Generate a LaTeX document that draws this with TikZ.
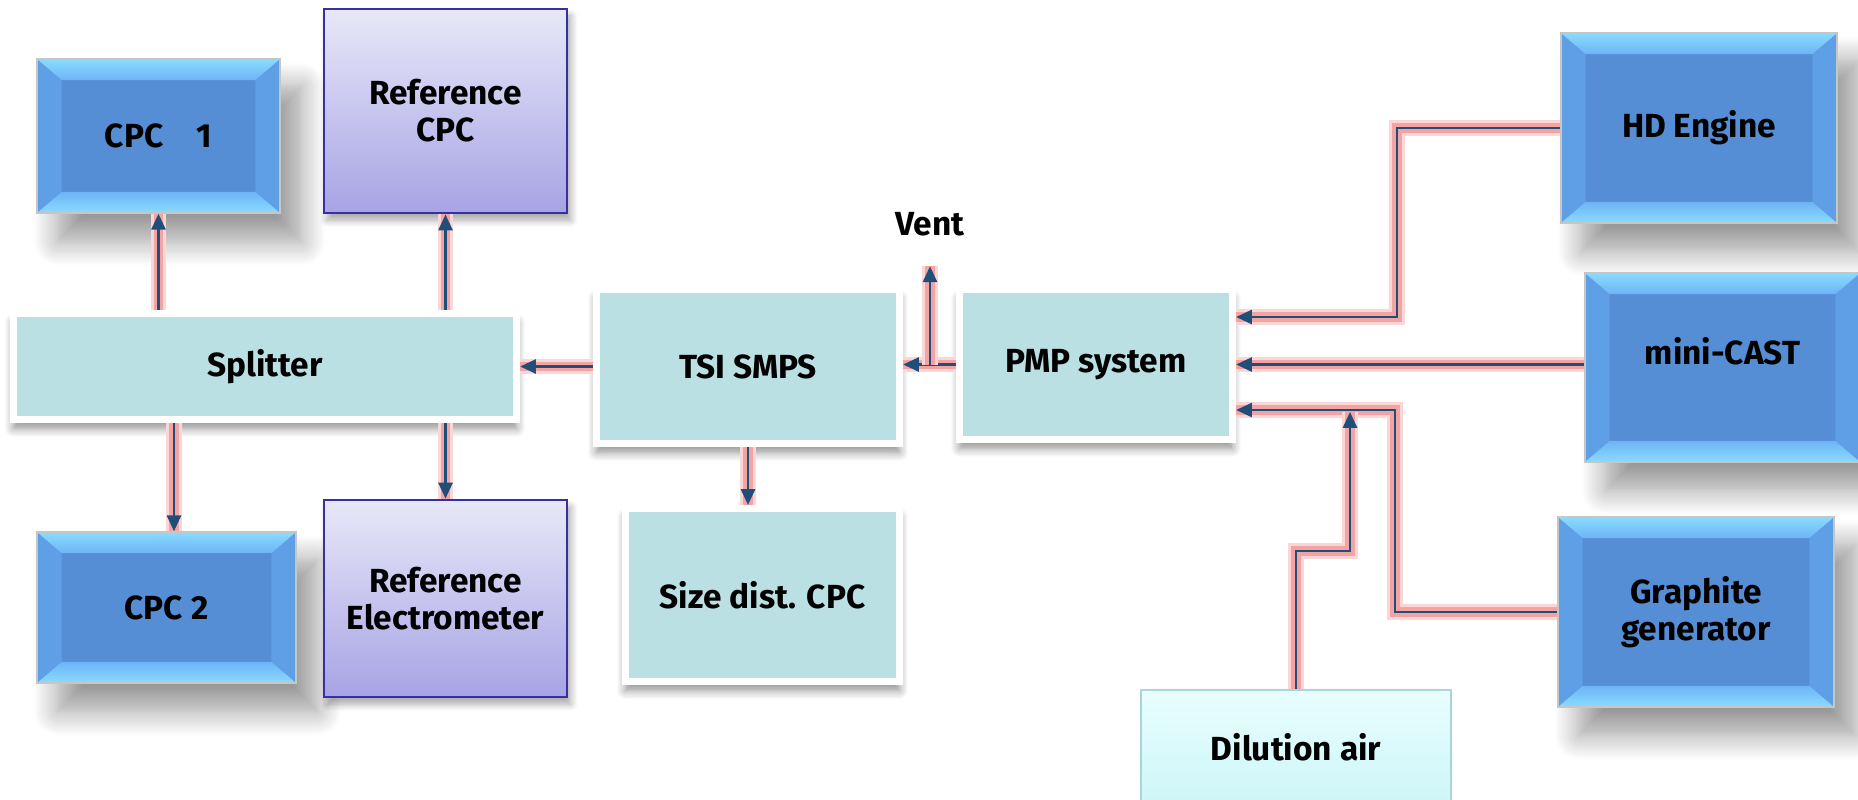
\documentclass[tikz,border=0pt]{standalone}
\usepackage{fontspec}
\setmainfont{Fira Sans}
\usepackage{tikz}
\usetikzlibrary{arrows.meta,shadows.blur,calc}

\definecolor{flowblue}{HTML}{1F4E79}
\definecolor{glowpink}{HTML}{F4A3A3}
\definecolor{boxteal}{HTML}{BAE0E3}
\definecolor{bevelmid}{HTML}{558ED5}
\definecolor{beveltop}{HTML}{8ADCFF}
\definecolor{bevelside}{HTML}{5E9FE6}
\definecolor{bevellow}{HTML}{6DB4F6}
\definecolor{refedge}{HTML}{3531A0}
\definecolor{reftop}{HTML}{E8E8F8}
\definecolor{refbottom}{HTML}{A7A3E5}
\definecolor{airtop}{HTML}{E8FEFF}
\definecolor{airbottom}{HTML}{CDF6F7}
\definecolor{airedge}{HTML}{A9D6D8}

\begin{document}
\begin{tikzpicture}[x=0.01cm,y=-0.01cm,
    font=\bfseries\fontsize{9.5}{10.5}\selectfont,
    every node/.style={align=center},
    flow/.style={flowblue,line width=0.7pt,-{Triangle[length=4.5pt,width=4pt]},
        preaction={draw=glowpink!45,line width=4.4pt,-},
        preaction={draw=glowpink,line width=2.6pt,-}},
    bevel/.style={fill=bevelmid,draw=gray!45,line width=0.4pt,
        blur shadow={shadow xshift=6pt,shadow yshift=-8pt,shadow blur radius=7pt,
            shadow opacity=40,shadow blur steps=12},
        path picture={
            \path (path picture bounding box.north west) coordinate (bnw)
                  (path picture bounding box.north east) coordinate (bne)
                  (path picture bounding box.south west) coordinate (bsw)
                  (path picture bounding box.south east) coordinate (bse);
            \fill[bevelside] (bnw) -- ([shift={(7pt,-6pt)}]bnw) -- ([shift={(7pt,6pt)}]bsw) -- (bsw) -- cycle;
            \fill[bevelside] (bne) -- ([shift={(-7pt,-6pt)}]bne) -- ([shift={(-7pt,6pt)}]bse) -- (bse) -- cycle;
            \shade[top color=beveltop,bottom color=bevellow] (bnw) -- (bne) -- ([shift={(-7pt,-6pt)}]bne) -- ([shift={(7pt,-6pt)}]bnw) -- cycle;
            \shade[top color=bevellow,bottom color=beveltop] (bsw) -- (bse) -- ([shift={(-7pt,6pt)}]bse) -- ([shift={(7pt,6pt)}]bsw) -- cycle;
        }},
    refbox/.style={top color=reftop,bottom color=refbottom,draw=refedge,line width=0.8pt,
        blur shadow={shadow xshift=1pt,shadow yshift=-2pt,shadow blur radius=2pt,
            shadow opacity=35,shadow blur steps=8}},
    panel/.style={fill=boxteal,draw=white,line width=2pt,
        blur shadow={shadow xshift=0pt,shadow yshift=-2.5pt,shadow blur radius=2.5pt,
            shadow opacity=45,shadow blur steps=8}},
    airbox/.style={top color=airtop,bottom color=airbottom,draw=airedge,line width=0.6pt}]
    \useasboundingbox (0,0) rectangle (1858,799);

    % left side
    \node[bevel,minimum width=2.43cm,minimum height=1.54cm] (CPC_1) at (158.5,136) {CPC\quad 1};
    \node[refbox,minimum width=2.43cm,minimum height=2.04cm] (Reference_CPC) at (445.5,111) {Reference\\CPC};
    \node[panel,minimum width=5.03cm,minimum height=1.06cm] (Splitter) at (265,366.5) {Splitter};
    \node[bevel,minimum width=2.59cm,minimum height=1.51cm] (CPC_2) at (166.5,607.5) {CPC 2};
    \node[refbox,minimum width=2.43cm,minimum height=1.97cm] (Reference_Electrometer) at (445.5,598.5) {Reference\\Electrometer};

    % middle
    \node[panel,minimum width=3.03cm,minimum height=1.54cm] (TSI_SMPS) at (748,366.5) {TSI SMPS};
    \node[panel,minimum width=2.74cm,minimum height=1.73cm] (Size_dist_CPC) at (762.5,595) {Size dist. CPC};
    \node[panel,minimum width=2.73cm,minimum height=1.50cm] (PMP_system) at (1096,364.5) {PMP system};
    \node (Vent) at (930,224) {Vent};

    % sources
    \node[bevel,minimum width=2.76cm,minimum height=1.90cm] (HD_Engine) at (1699,128) {HD Engine};
    \node[bevel,minimum width=2.75cm,minimum height=1.89cm] (mini_CAST) at (1722.5,367.5) {\raisebox{0.8pt}[0pt][0pt]{mini-CAST}};
    \node[bevel,minimum width=2.76cm,minimum height=1.90cm] (Graphite_generator) at (1696,612) {Graphite\\generator};
    \node[airbox,minimum width=3.10cm,minimum height=1.14cm] (Dilution_air) at (1296,747) {Dilution air};

    \coordinate (Vent_tee) at (Vent |- PMP_system.west);
    \coordinate (HD_in) at ($(PMP_system.east)+(0,-47.5)$);
    \coordinate (Graphite_in) at ($(PMP_system.east)+(0,45.5)$);
    \coordinate (Air_join) at (1350,412);

    \draw[flow] (Splitter.north -| CPC_1.south) -- (CPC_1.south);
    \draw[flow] (Splitter.north -| Reference_CPC.south) -- (Reference_CPC.south);
    \draw[flow] ($(Splitter.south -| CPC_2.north)+(7.5,0)$) -- ($(CPC_2.north)+(7.5,0)$);
    \draw[flow] (Splitter.south -| Reference_Electrometer.north) -- (Reference_Electrometer.north);
    \draw[flow] (TSI_SMPS.west) -- (Splitter.east);
    \draw[flow] (TSI_SMPS.south) -- (TSI_SMPS.south |- Size_dist_CPC.north);
    \draw[flow] (PMP_system.west) -- (PMP_system.west -| TSI_SMPS.east);
    \draw[flow] (Vent_tee) -- ($(Vent.south)+(0,18)$);
    \draw[flow] (HD_Engine.west) -| (1397,317) -- (HD_in);
    \draw[flow] (PMP_system.east -| mini_CAST.west) -- (PMP_system.east);
    \draw[flow] (Graphite_generator.west) -| (1395,410) -- (Graphite_in);
    \draw[flow] (Dilution_air.north) |- (1350,551) -- (Air_join);
\end{tikzpicture}
\end{document}
